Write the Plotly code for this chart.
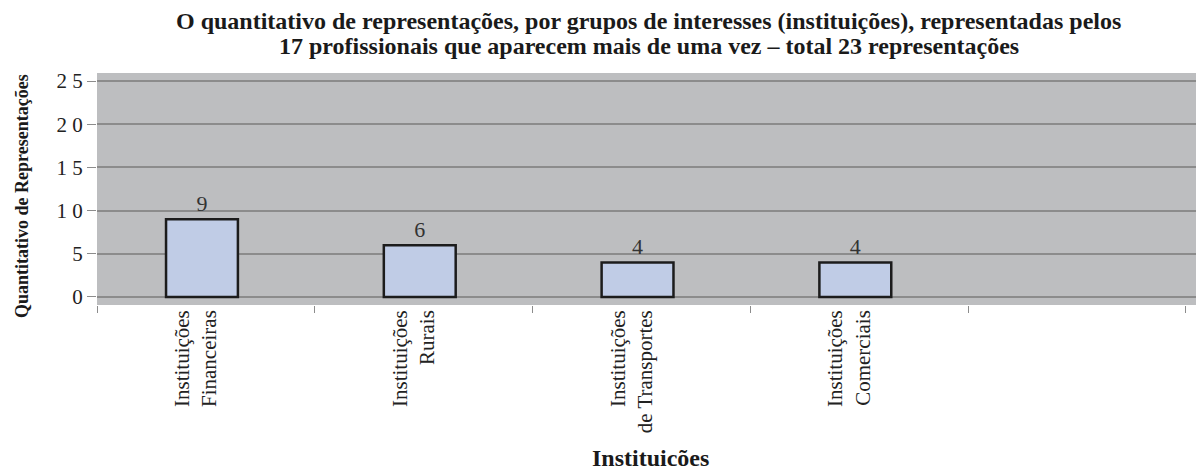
import plotly.graph_objects as go

categories = ["Instituições<br>Financeiras", "Instituições<br>Rurais",
              "Instituições<br>de Transportes", "Instituições<br>Comerciais", " "]
values = [9, 6, 4, 4, None]
labels = ["9", "6", "4", "4", ""]
y_tickvals = [0, 5, 10, 15, 20, 25]
y_ticktext = ["0", "5", "1 0", "1 5", "2 0", "2 5"]

title_line1 = "O quantitativo de representações, por grupos de interesses (instituições), representadas pelos"
title_line2 = "17 profissionais que aparecem mais de uma vez – total 23 representações"
y_title = "Quantitativo de Representações"
x_title = "Instituicões"

SERIF = "Liberation Serif, Times New Roman, serif"
BOLD_FONT = dict(family=SERIF, size=24, color="#1a1a1a")

fig = go.Figure()
fig.add_trace(go.Bar(
    x=categories, y=values,
    text=labels, textposition="outside",
    textfont=dict(family=SERIF, size=22, color="#333333"),
    marker=dict(color="#c0cce6", line=dict(color="#1c1c1c", width=2.5)),
    width=0.33, offset=-0.183,
    cliponaxis=False,
))

fig.update_layout(
    width=1196, height=463,
    margin=dict(l=89, r=0, t=65, b=166, autoexpand=False),
    paper_bgcolor="white", plot_bgcolor="#bdbec0",
    showlegend=False,
    font=dict(family=SERIF, color="#222222"),
    xaxis=dict(
        type="category", range=[-0.5, 4.583],
        tickson="boundaries", ticks="outside", ticklen=7, tickcolor="#8c8c8c", tickwidth=1,
        tickangle=-90, tickfont=dict(family=SERIF, size=21, color="#222222"),
        ticklabelshift=-10,
        showgrid=False, zeroline=False, showline=False,
    ),
    yaxis=dict(
        range=[-0.93, 25.93], tickmode="array", tickvals=y_tickvals, ticktext=y_ticktext,
        ticks="outside", ticklen=9, tickcolor="#8c8c8c", tickwidth=1,
        tickfont=dict(family=SERIF, size=21, color="#222222"),
        showgrid=True, gridcolor="#8c8c8c", gridwidth=1.5,
        zeroline=False, showline=False,
    ),
    annotations=[
        dict(text="<b>" + title_line1 + "</b>", xref="paper", yref="paper",
             x=0.4982, y=1.224, xanchor="center", yanchor="middle",
             showarrow=False, font=BOLD_FONT),
        dict(text="<b>" + title_line2 + "</b>", xref="paper", yref="paper",
             x=0.4982, y=1.116, xanchor="center", yanchor="middle",
             showarrow=False, font=BOLD_FONT),
        dict(text="<b>" + y_title + "</b>", xref="paper", yref="paper",
             x=-0.0678, y=0.47, xanchor="center", yanchor="middle", textangle=-90,
             showarrow=False, font=dict(family=SERIF, size=18, color="#1a1a1a")),
        dict(text="<b>" + x_title + "</b>", xref="paper", yref="paper",
             x=0.5, y=-0.6595, xanchor="center", yanchor="middle",
             showarrow=False, font=BOLD_FONT),
    ],
)

fig.write_html("out.html")
